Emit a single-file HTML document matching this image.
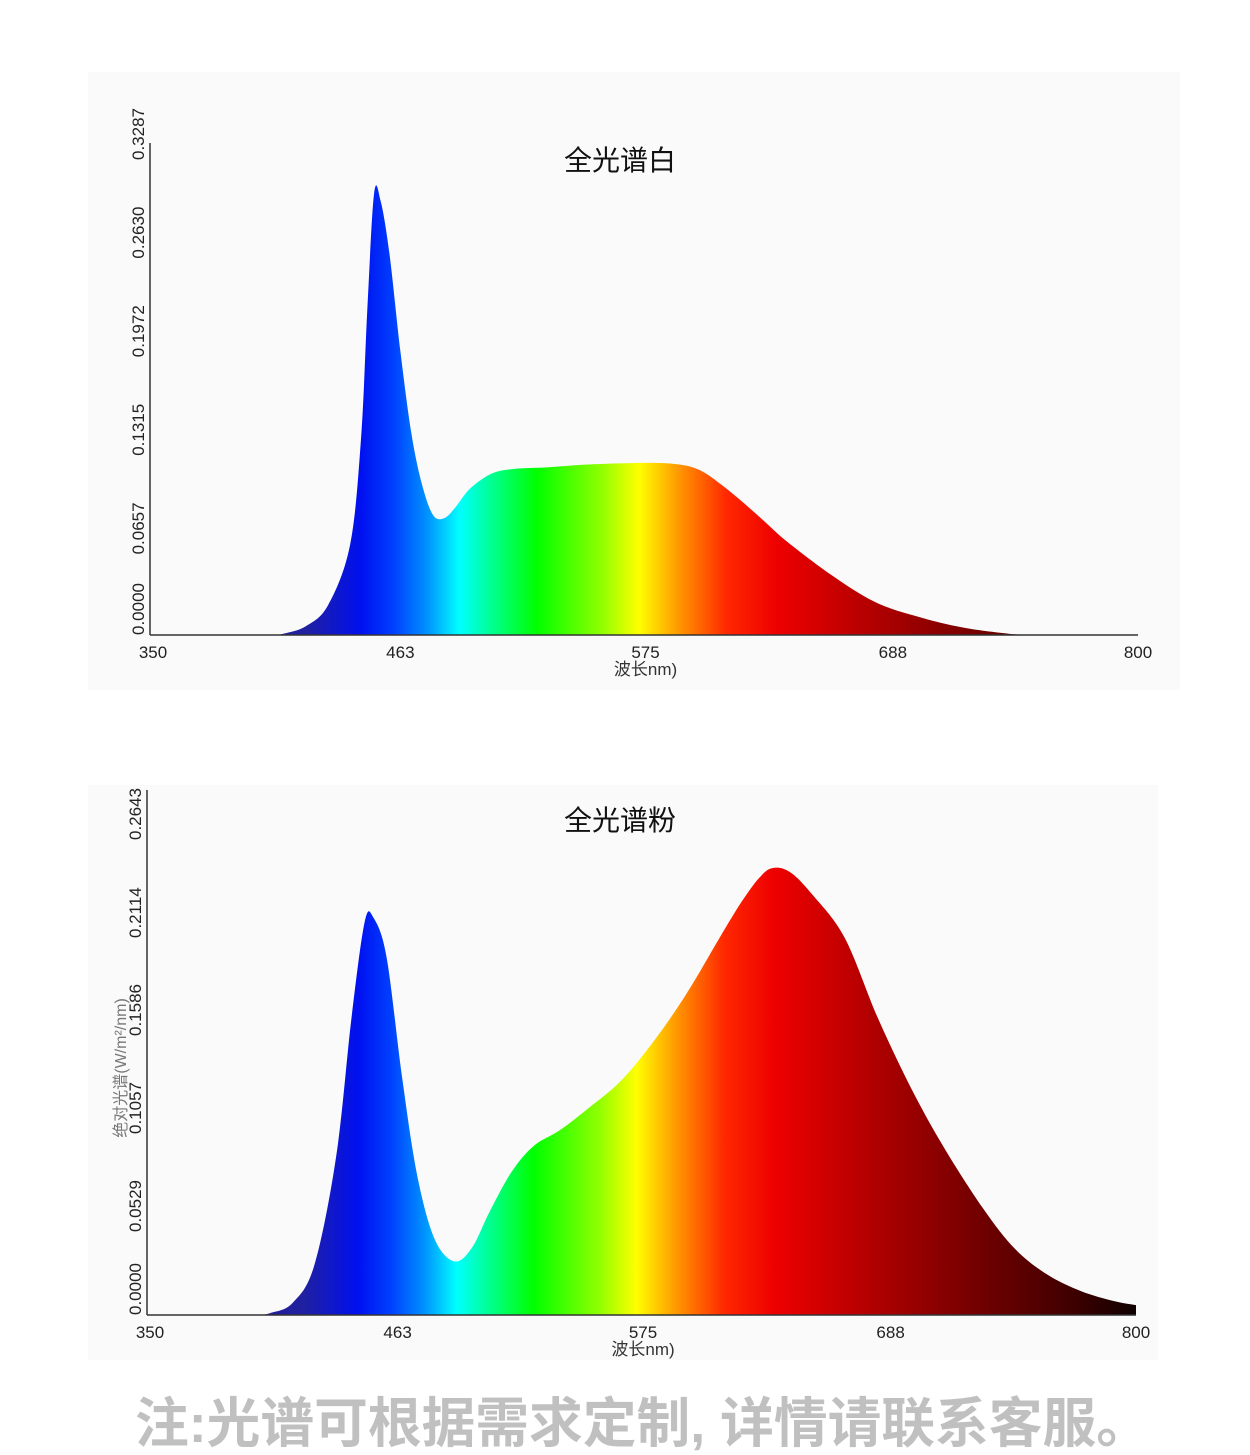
<!DOCTYPE html>
<html><head><meta charset="utf-8"><style>
html,body{margin:0;padding:0;background:#fff;}
body{width:1250px;height:1455px;position:relative;overflow:hidden;font-family:"Liberation Sans","Noto Sans CJK SC",sans-serif;}
svg{position:absolute;left:0;top:0;}
</style></head><body>
<svg id="c" width="1250" height="1455" viewBox="0 0 1250 1455" xmlns="http://www.w3.org/2000/svg"></svg>
<script>
// Chart 1 data (全光谱白)
const wl1 = [405,410,420,430,440,445,448,451,454,458,463,468,473,478,483,488,495,505,515,530,550,575,590,600,610,620,630,640,660,680,700,720,740,750];
const v1  = [0,0.001,0.006,0.02,0.06,0.13,0.22,0.295,0.29,0.255,0.19,0.135,0.1,0.08,0.078,0.085,0.098,0.108,0.111,0.112,0.114,0.115,0.114,0.11,0.1,0.088,0.075,0.062,0.04,0.022,0.012,0.005,0.001,0];
const yTicks1 = ["0.0000","0.0657","0.1315","0.1972","0.2630","0.3287"];
// Chart 2 data (全光谱粉)
const wl2 = [400,405,415,425,435,442,448,452,458,465,472,480,489,497,505,515,525,537,550,565,580,595,610,620,628,634,642,652,667,682,697,712,730,745,760,775,790,800];
const v2  = [0,0.001,0.006,0.025,0.08,0.15,0.198,0.2,0.18,0.12,0.07,0.038,0.027,0.034,0.052,0.072,0.085,0.093,0.104,0.118,0.138,0.162,0.19,0.208,0.22,0.225,0.223,0.212,0.19,0.15,0.115,0.085,0.054,0.033,0.02,0.012,0.007,0.005];
const yTicks2 = ["0.0000","0.0529","0.1057","0.1586","0.2114","0.2643"];
const xTicks = [350,463,575,688,800];

const NS="http://www.w3.org/2000/svg";
const svg=document.getElementById('c');
function mk(t,a,p){const e=document.createElementNS(NS,t);for(const k in a)e.setAttribute(k,a[k]);(p||svg).appendChild(e);return e;}

const stops=[[350,"#2a1a80"],[420,"#2020a0"],[445,"#0010f0"],[460,"#0040ff"],[475,"#0090ff"],[490,"#00ffff"],[505,"#00ff90"],[525,"#00ff00"],[555,"#90ff00"],[572,"#ffff00"],[590,"#ff9900"],[612,"#ff2800"],[635,"#ee0000"],[680,"#b00000"],[730,"#700000"],[770,"#400000"],[800,"#100000"]];
const defs=mk('defs',{});

function chart(id,o){
  const g=mk('g',{});
  
  
  const bg=mk('rect',{x:o.bx,y:o.by,width:o.bw,height:o.bh,fill:'#fafafa'},g);
  
  
  const X=w=>o.x0+(w-350)/450*(o.x1-o.x0);
  const Y=v=>o.yb-v/o.ymax*(o.yb-o.yt);
  const lg=mk('linearGradient',{id:id+'g',gradientUnits:'userSpaceOnUse',x1:X(350),x2:X(800),y1:0,y2:0},defs);
  stops.forEach(s=>mk('stop',{offset:((s[0]-350)/450).toFixed(4),'stop-color':s[1]},lg));
  const P=o.wl.map((w,i)=>[X(w),Y(o.v[i])]);
  let d=`M${P[0][0]},${o.yb} L${P[0][0]},${P[0][1]}`;
  for(let i=0;i<P.length-1;i++){
    const p0=P[Math.max(0,i-1)],p1=P[i],p2=P[i+1],p3=P[Math.min(P.length-1,i+2)];
    const c1=[p1[0]+(p2[0]-p0[0])/6,p1[1]+(p2[1]-p0[1])/6],c2=[p2[0]-(p3[0]-p1[0])/6,p2[1]-(p3[1]-p1[1])/6];
    d+=` C${c1[0].toFixed(1)},${c1[1].toFixed(1)} ${c2[0].toFixed(1)},${c2[1].toFixed(1)} ${p2[0].toFixed(1)},${p2[1].toFixed(1)}`;
  }
  d+=` L${P[P.length-1][0]},${o.yb} Z`;
  const area=mk('path',{d:d,fill:`url(#${id}g)`},g);
  
  
  const ax=mk('line',{x1:o.x0-3,y1:o.yb,x2:o.x1,y2:o.yb,stroke:'#333','stroke-width':1.5},g);
  
  
  const ay=mk('line',{x1:o.x0-3,y1:o.yb,x2:o.x0-3,y2:o.yt,stroke:'#333','stroke-width':1.5},g);
  
  
  xTicks.forEach(t=>{
    const tx=mk('text',{x:X(t),y:o.yb+23,'font-size':17,'text-anchor':'middle',fill:'#222'},g);
    tx.textContent=t;
    
    
  });
  o.yt_.forEach((t,i)=>{
    const yy=i===0?o.yb:o.lb-i*o.ls;
    const tx=mk('text',{x:0,y:0,'font-size':17,'text-anchor':'start',fill:'#222',transform:`translate(${o.x0-9},${yy}) rotate(-90)`},g);
    tx.textContent=t;
    
    
  });
  const xl=mk('text',{x:X(575),y:o.yb+40,'font-size':17,'text-anchor':'middle',fill:'#333'},g);
  xl.textContent='波长nm)';
  
  
  const tt=mk('text',{x:620,y:o.ty,'font-size':28,'text-anchor':'middle',fill:'#111'},g);
  tt.textContent=o.title;
  
  
  if(o.ylab){
    const yl=mk('text',{x:0,y:0,'font-size':16,'text-anchor':'middle',fill:'#777',transform:`translate(126,1068) rotate(-90)`},g);
    yl.textContent=o.ylab;
    
    
  }
}
chart('chart-white',{bx:88,by:72,bw:1092,bh:618,x0:153,x1:1138,yb:635,yt:143,ymax:0.3287,wl:wl1,v:v1,yt_:yTicks1,title:'全光谱白',ty:170,lb:653,ls:98.6});
chart('chart-pink',{bx:88,by:785,bw:1070,bh:575,x0:150,x1:1136,yb:1315,yt:790,ymax:0.2643,wl:wl2,v:v2,yt_:yTicks2,title:'全光谱粉',ty:830,ylab:'绝对光谱(W/m²/nm)',lb:1330,ls:98});
const note=mk('text',{x:135,y:1442,'font-size':54,'font-weight':'bold','text-anchor':'start',fill:'#c0c0c0',textLength:1015,lengthAdjust:'spacingAndGlyphs'});
note.textContent='注:光谱可根据需求定制, 详情请联系客服。';


</script>
</body></html>
